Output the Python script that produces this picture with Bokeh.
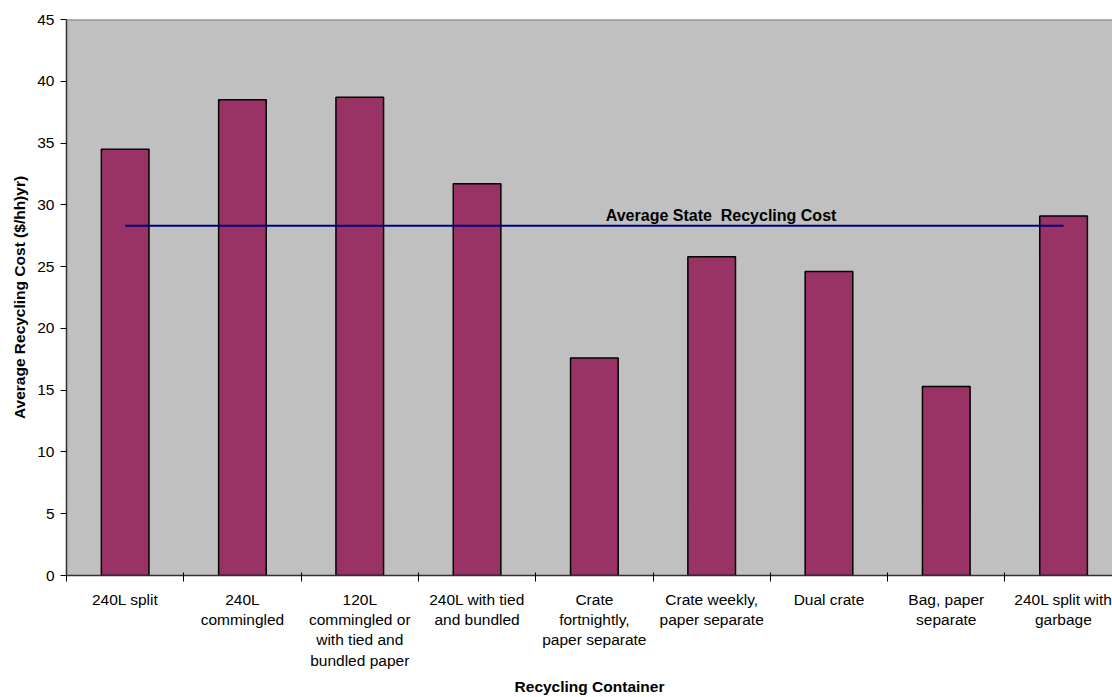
from bokeh.plotting import figure
from bokeh.models import Range1d, FixedTicker, Span, Label, ColumnDataSource
from bokeh.embed import file_html
from bokeh.resources import INLINE

# Recycling container types and their average annual cost per household
containers = [
    "240L split",
    "240L\ncommingled",
    "120L\ncommingled or\nwith tied and\nbundled paper",
    "240L with tied\nand bundled",
    "Crate\nfortnightly,\npaper separate",
    "Crate weekly,\npaper separate",
    "Dual crate",
    "Bag, paper\nseparate",
    "240L split with\ngarbage",
]
avg_cost = [34.5, 38.5, 38.7, 31.7, 17.6, 25.8, 24.6, 15.3, 29.1]

# Statewide average recycling cost
state_avg = 28.3
state_avg_label = "Average State\u00a0 Recycling Cost"

y_ticks = [0, 5, 10, 15, 20, 25, 30, 35, 40, 45]

FONT = "Liberation Sans"

centers = [i + 0.5 for i in range(len(containers))]
boundaries = list(range(len(containers) + 1))

p = figure(
    width=1112, height=697,
    output_backend="svg", toolbar_location=None,
    x_range=Range1d(0, 8.917), y_range=Range1d(0, 45),
    min_border_left=66, min_border_right=0,
    min_border_top=19, min_border_bottom=121,
)
p.background_fill_color = "#C0C0C0"
p.border_fill_color = "white"
p.outline_line_color = None
p.xgrid.visible = False
p.ygrid.visible = False

src = ColumnDataSource(dict(x=centers, top=avg_cost))
p.vbar(x="x", top="top", bottom=0, width=0.406, source=src,
       fill_color="#993366", line_color="black", line_width=1.5)

# State average reference line, spanning first to last bar centres
p.segment(x0=[centers[0]], y0=[state_avg], x1=[centers[-1]], y1=[state_avg],
          line_color="#000080", line_width=2)
p.add_layout(Label(x=5.58, y=state_avg + 0.85, text=state_avg_label,
                   text_font=FONT, text_font_size="16px", text_font_style="bold",
                   text_color="black", text_align="center", text_baseline="alphabetic"))

# Top border of the plotting area
p.add_layout(Span(location=45, dimension="width", line_color="#808080", line_width=2))

# X axis: labels centred on bars, ticks between categories
xa = p.xaxis[0]
xa.ticker = FixedTicker(ticks=centers, minor_ticks=boundaries)
xa.major_label_overrides = {c: lab for c, lab in zip(centers, containers)}
xa.major_tick_in = 0
xa.major_tick_out = 0
xa.minor_tick_in = 3
xa.minor_tick_out = 6
xa.minor_tick_line_color = "black"
xa.axis_line_color = "#303030"
xa.axis_line_width = 1.5
xa.major_label_text_font = FONT
xa.major_label_text_font_size = "15.5px"
xa.major_label_text_color = "black"
xa.major_label_standoff = 9
xa.axis_label = "Recycling Container"
xa.axis_label_text_font = FONT
xa.axis_label_text_font_size = "15.5px"
xa.axis_label_text_font_style = "bold"
xa.axis_label_text_color = "black"
xa.axis_label_standoff = 6

ya = p.yaxis[0]
ya.ticker = FixedTicker(ticks=y_ticks)
ya.minor_tick_line_color = None
ya.major_tick_in = 0
ya.major_tick_out = 6
ya.major_tick_line_color = "black"
ya.axis_line_color = "#303030"
ya.axis_line_width = 1.5
ya.major_label_text_font = FONT
ya.major_label_text_font_size = "15.5px"
ya.major_label_text_color = "black"
ya.major_label_standoff = 6
ya.axis_label = "Average Recycling Cost ($/hh)yr)"
ya.axis_label_text_font = FONT
ya.axis_label_text_font_size = "15.5px"
ya.axis_label_text_font_style = "bold"
ya.axis_label_text_color = "black"
ya.axis_label_standoff = 6

open("out.html", "w").write(file_html(p, INLINE))
